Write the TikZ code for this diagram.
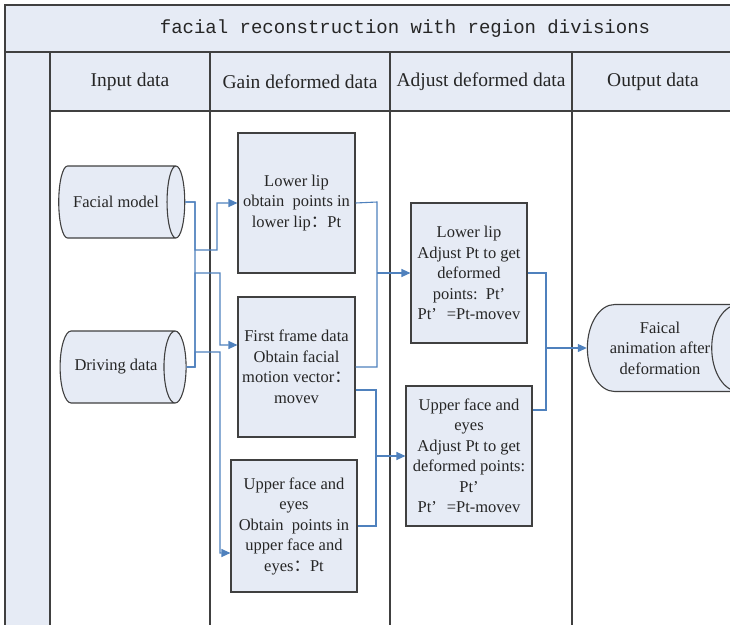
\documentclass[tikz,border=0pt]{standalone}
\usepackage{fontspec}
\setmainfont{Liberation Serif}
\newfontfamily\titlefont{Liberation Mono}
\newfontfamily\cjk{Noto Sans CJK SC}
\usetikzlibrary{shapes.geometric}
\usetikzlibrary{arrows.meta}
\definecolor{lane}{RGB}{230,235,245}
\definecolor{edge}{RGB}{64,64,64}
\definecolor{flowblue}{RGB}{79,129,189}
\newcommand{\fcolon}{{\cjk ：}}

\begin{document}
\begin{tikzpicture}[x=1pt,y=-1pt,
  every node/.style={font=\fontsize{16.5}{20.5}\selectfont,text=black!85},
  head/.style={font=\fontsize{19.5}{22}\selectfont},
  stepbox/.style={draw=edge,line width=1.1pt,fill=lane,align=center,inner sep=1pt},
  store/.style={cylinder,draw=edge,line width=1.1pt,fill=lane,aspect=1.3,align=center,inner sep=1pt},
  link/.style={draw=flowblue,line width=1.1pt},
  flow/.style={link,-{Triangle[length=9pt,width=8pt]}}]
\useasboundingbox (0,0) rectangle (730,624);
\fill[lane] (5,5) rectangle (740,111);
\fill[lane] (5,111) rectangle (50,630);
\draw[edge,line width=1.1pt] (740,5) -- (5,5) -- (5,630);
\draw[edge,line width=2pt] (5,52) -- (740,52);
\draw[edge,line width=1.1pt] (50,52) -- (50,630);
\draw[edge,line width=1.1pt] (50,111) -- (740,111);
\foreach \x in {210,390,572} \draw[edge,line width=1.1pt] (\x,52) -- (\x,630);

\node[font=\titlefont\fontsize{19}{22}\selectfont] (title) at (405,29) {facial reconstruction with region divisions};
\node[head] (hInput) at (130,82) {Input data};
\node[head] (hGain) at (300,82) {Gain deformed data};
\node[head] (hAdjust) at (481,82) {Adjust deformed data};
\node[head] (hOutput) at (653,82) {Output data};

\node[store,minimum height=126pt,minimum width=72pt] (fm) at (116,202) {Facial model};
\node[store,minimum height=126pt,minimum width=72pt] (dd) at (116,367) {Driving data};
\node[stepbox,minimum width=117pt,minimum height=140pt] (gLip) at (296.5,203) {Lower lip\\obtain\ \ points in\\lower lip\fcolon Pt};
\node[stepbox,minimum width=117pt,minimum height=140pt] (gFrame) at (296.5,367) {First frame data\\Obtain facial\\motion vector\fcolon\\movev};
\node[stepbox,minimum width=126pt,minimum height=132pt] (gUpper) at (294,526) {Upper face and\\eyes\\Obtain\ \ points in\\upper face and\\eyes\fcolon Pt};
\node[stepbox,minimum width=116pt,minimum height=140pt] (aLip) at (469,273) {Lower lip\\Adjust Pt to get\\deformed\\points:\ \ Pt’\\Pt’\hspace{0.6em}=Pt-movev};
\node[stepbox,minimum width=126pt,minimum height=140pt] (aUpper) at (469,456) {Upper face and\\eyes\\Adjust Pt to get\\deformed points:\\Pt’\\Pt’\hspace{0.6em}=Pt-movev};
\node[store,aspect=1.0,minimum height=146pt,minimum width=87pt] (out) at (660,348) {Faical\\animation after\\deformation};

\coordinate (m1) at (377,273);
\coordinate (m2) at (376,456);
\coordinate (m3) at (546,348);
\draw[link] (fm.east) -- (195,202) |- (dd.east);
\draw[flow] (fm.east) -- (195,202) |- (217,250) |- (gLip.west);
\draw[flow] (dd.east) -- (195,367) |- (220,273) |- ([yshift=22pt]gFrame.west);
\draw[flow] (dd.east) -- (195,367) |- (220,352) |- ([yshift=-27pt]gUpper.west);
\draw[link] (gLip.east) -- (377,202) |- (gFrame.east);
\draw[flow] (m1) -- (aLip.west);
\draw[link] ([yshift=-23pt]gFrame.east) -| (m2) |- (gUpper.east);
\draw[flow] (m2) -- (aUpper.west);
\draw[link] (aLip.east) -- (546,273) |- ([yshift=46pt]aUpper.east);
\draw[flow] (m3) -- (out.west);
\end{tikzpicture}
\end{document}
